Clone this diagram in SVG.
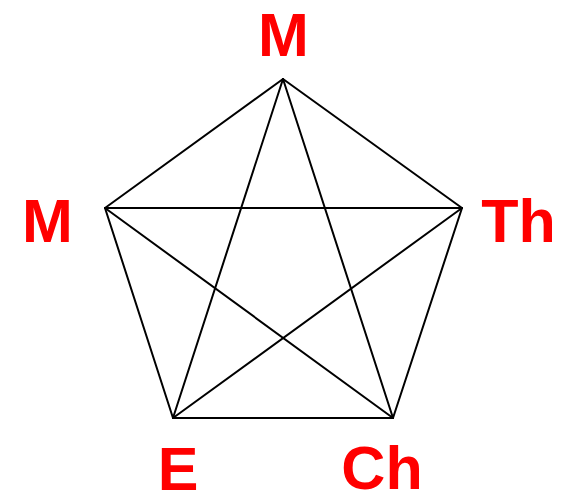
<svg xmlns="http://www.w3.org/2000/svg" width="567" height="495" viewBox="0 0 567 495">
<style>
.lbl{font-family:"Liberation Sans",Arial,sans-serif;font-weight:bold;font-size:61px;fill:#ff0000;text-anchor:middle}
.e{stroke:#000;stroke-width:2;fill:none;stroke-linecap:round}
</style>
<rect width="567" height="495" fill="#fff"/>
<g id="connectors">
<line class="e" x1="283" y1="79" x2="105" y2="208"/>
<line class="e" x1="283" y1="79" x2="462" y2="208"/>
<line class="e" x1="283" y1="79" x2="173" y2="418"/>
<line class="e" x1="283" y1="79" x2="393" y2="418"/>
<line class="e" x1="105" y1="208" x2="462" y2="208"/>
<line class="e" x1="105" y1="208" x2="173" y2="418"/>
<line class="e" x1="105" y1="208" x2="393" y2="418"/>
<line class="e" x1="462" y1="208" x2="173" y2="418"/>
<line class="e" x1="462" y1="208" x2="393" y2="418"/>
<line class="e" x1="173" y1="418" x2="393" y2="418"/>
</g>
<g id="node-top"><text class="lbl" x="283.5" y="56">M</text></g>
<g id="node-left"><text class="lbl" x="47.5" y="242">M</text></g>
<g id="node-right"><text class="lbl" x="518.5" y="242">Th</text></g>
<g id="node-bl"><text class="lbl" x="178" y="490">E</text></g>
<g id="node-br"><text class="lbl" x="382" y="489">Ch</text></g>
</svg>
